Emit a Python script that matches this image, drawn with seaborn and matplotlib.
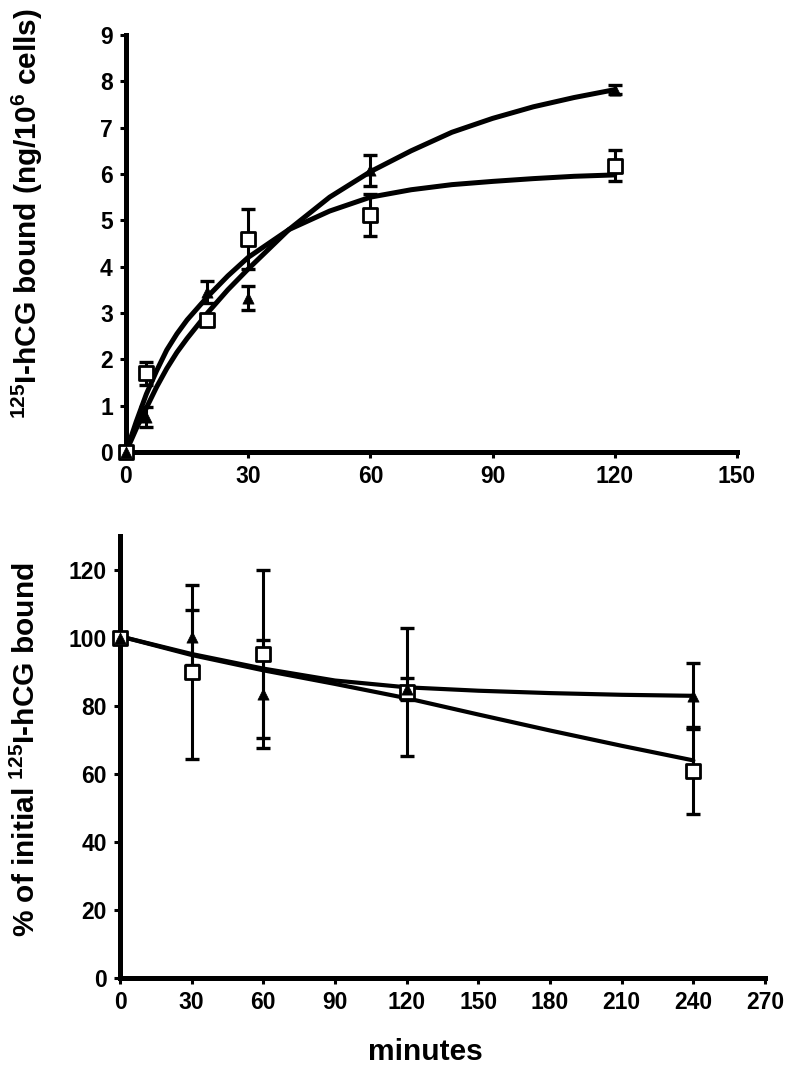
import matplotlib
matplotlib.use('Agg')
import matplotlib.pyplot as plt
import seaborn as sns

# top panel: 125I-hCG binding over time (open squares / filled triangles)
bind_t = [0, 5, 20, 30, 60, 120]
bind_sq = [0.0, 1.7, 2.85, 4.6, 5.12, 6.18]
bind_sq_err = [0.0, 0.25, 0.08, 0.65, 0.45, 0.34]
bind_tri = [0.0, 0.75, 3.45, 3.32, 6.08, 7.82]
bind_tri_err = [0.0, 0.22, 0.23, 0.26, 0.33, 0.1]

# fitted curves, values
fit_t = [0, 2.5, 5, 7.5, 10, 12.5, 15, 20, 25, 30, 40, 50, 60, 70, 80, 90, 100, 110, 120]
fit_sq = [0.0, 0.65, 1.25, 1.75, 2.2, 2.55, 2.85, 3.35, 3.8, 4.2, 4.8, 5.2, 5.5, 5.66, 5.77, 5.84, 5.9, 5.95, 5.98]
fit_tri = [0.0, 0.5, 0.95, 1.4, 1.8, 2.15, 2.45, 3.0, 3.5, 3.95, 4.8, 5.5, 6.05, 6.5, 6.9, 7.2, 7.45, 7.65, 7.82]

# bottom panel: % of initial bound remaining
diss_t = [0, 30, 60, 120, 240]
diss_sq = [100, 90, 95.3, 84, 61]
diss_sq_err = [0, 25.5, 24.8, 18.8, 12.8]
diss_tri = [100, 100.2, 83.5, 85, 83]
diss_tri_err = [0, 8, 15.8, 3.3, 9.7]

line_t = [0, 30, 60, 90, 120, 150, 180, 210, 240]
line_sq = [100.5, 95, 90.5, 86.5, 82.3, 77.5, 72.8, 68.3, 64]
line_tri = [100.5, 95.3, 91, 87.5, 85.5, 84.5, 83.8, 83.3, 83]

sns.set_style('ticks')
plt.rcParams['font.family'] = ['Liberation Sans', 'DejaVu Sans']
plt.rcParams['font.weight'] = 'bold'
plt.rcParams['mathtext.fontset'] = 'custom'
plt.rcParams['mathtext.rm'] = 'Liberation Sans:bold'
plt.rcParams['mathtext.bf'] = 'Liberation Sans:bold'
plt.rcParams['mathtext.default'] = 'bf'
for key in ['text.color', 'axes.labelcolor', 'xtick.color', 'ytick.color', 'axes.edgecolor']:
    plt.rcParams[key] = 'black'


def draw_panel(ax, t, sq, sq_err, tri, tri_err, ft, fsq, ftri, lw):
    sns.lineplot(x=ft, y=fsq, ax=ax, color='black', linewidth=lw, zorder=2)
    sns.lineplot(x=ft, y=ftri, ax=ax, color='black', linewidth=lw, zorder=2)

    ax.errorbar(t, sq, yerr=sq_err, fmt='none', ecolor='black',
                elinewidth=2.2, capsize=4.8, capthick=2.4, clip_on=False, zorder=3)
    ax.errorbar(t, tri, yerr=tri_err, fmt='none', ecolor='black',
                elinewidth=2.2, capsize=4.8, capthick=2.4, clip_on=False, zorder=3)

    sns.scatterplot(x=t, y=sq, ax=ax, marker='s', s=90, color='white',
                    edgecolor='black', linewidth=2.0, zorder=4, clip_on=False)
    sns.scatterplot(x=t, y=tri, ax=ax, marker='^', s=65, color='black',
                    edgecolor='black', linewidth=0.5, zorder=5, clip_on=False)

    sns.despine(ax=ax)
    for side in ['left', 'bottom']:
        ax.spines[side].set_linewidth(3.6)
    ax.tick_params(direction='out', length=4.5, width=2.2, labelsize=16.5, pad=5,
                   colors='black')


fig = plt.figure(figsize=(7.85, 10.8), dpi=100)

ax1 = fig.add_axes([0.1605, 0.5815, 0.7783, 0.3861])
draw_panel(ax1, bind_t, bind_sq, bind_sq_err, bind_tri, bind_tri_err,
           fit_t, fit_sq, fit_tri, 3.6)
ax1.set_xlim(0, 150)
ax1.set_ylim(0, 9)
ax1.set_xticks(range(0, 151, 30))
ax1.set_yticks(range(0, 10))
ax1.set_xlabel('')
ax1.set_ylabel(r'$^{125}$I-hCG bound (ng/10$^{6}$ cells)', fontsize=21.5, fontweight='bold')
ax1.yaxis.set_label_coords(-0.133, 0.573)

ax2 = fig.add_axes([0.1529, 0.0944, 0.8217, 0.4093])
draw_panel(ax2, diss_t, diss_sq, diss_sq_err, diss_tri, diss_tri_err,
           line_t, line_sq, line_tri, 3.0)
ax2.set_xlim(0, 270)
ax2.set_ylim(0, 130)
ax2.set_xticks(range(0, 271, 30))
ax2.set_yticks(range(0, 121, 20))
ax2.set_xlabel('minutes', fontsize=21.5, fontweight='bold')
ax2.xaxis.set_label_coords(0.473, -0.135)
ax2.set_ylabel(r'% of initial $^{125}$I-hCG bound', fontsize=21.5, fontweight='bold')
ax2.yaxis.set_label_coords(-0.122, 0.516)

for ax in (ax1, ax2):
    for lab in ax.get_xticklabels() + ax.get_yticklabels():
        lab.set_fontweight('bold')

fig.savefig('out.png', dpi=100)
